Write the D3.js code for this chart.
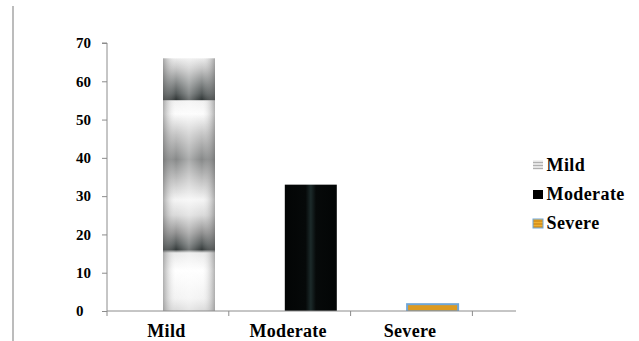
<!DOCTYPE html>
<html>
<head>
<meta charset="utf-8">
<script src="https://cdn.jsdelivr.net/npm/d3@7"></script>
<style>
  html, body { margin: 0; padding: 0; background: #fff; }
  svg { display: block; }
  text { font-family: "Liberation Serif", "Times New Roman", serif; font-weight: bold; fill: #000; }
</style>
</head>
<body>
<svg id="chart" width="639" height="341"></svg>
<script>
// ---- data ----
const categories = ["Mild", "Moderate", "Severe"];
const values = [66, 33, 1];
const yTicks = [0, 10, 20, 30, 40, 50, 60, 70];
const legendLabels = ["Mild", "Moderate", "Severe"];

// ---- layout ----
const W = 639, H = 341;
const svg = d3.select("#chart");
const x0 = 107, bandW = 121.8, axisEnd = 516;
const yTop = 43, yBottom = 311;
const barOffset = 56, barW = 52;

const x = d3.scaleBand().domain(categories).range([x0, x0 + bandW * categories.length]).padding(0);
const y = d3.scaleLinear().domain([0, 70]).range([yBottom, yTop]);

const defs = svg.append("defs");

// Mild bar vertical banding gradient
const gMild = defs.append("linearGradient").attr("id", "mildV").attr("x1", 0).attr("y1", 0).attr("x2", 0).attr("y2", 1);
[[0, "#ececec"], [0.04, "#c4c4c4"], [0.10, "#7a7e7e"], [0.14, "#4a5050"], [0.163, "#262c2c"], [0.168, "#f0f0f0"],
 [0.22, "#fcfcfc"], [0.30, "#c2c2c2"], [0.40, "#808282"], [0.48, "#bcbcbc"], [0.56, "#f4f4f4"],
 [0.62, "#d8d8d8"], [0.69, "#8a8a8a"], [0.735, "#4c5252"], [0.757, "#2a3030"], [0.77, "#e8e8e8"], [0.84, "#ffffff"],
 [0.95, "#f2f2f2"], [1, "#d8d8d8"]]
  .forEach(([o, c]) => gMild.append("stop").attr("offset", o).attr("stop-color", c));

const gMildH = defs.append("linearGradient").attr("id", "mildH").attr("x1", 0).attr("y1", 0).attr("x2", 1).attr("y2", 0);
[[0, "#707070", 0.55], [0.25, "#ffffff", 0.05], [0.5, "#ffffff", 0.35], [0.75, "#ffffff", 0.05], [1, "#707070", 0.55]]
  .forEach(([o, c, a]) => gMildH.append("stop").attr("offset", o).attr("stop-color", c).attr("stop-opacity", a));

const gMod = defs.append("linearGradient").attr("id", "modH").attr("x1", 0).attr("y1", 0).attr("x2", 1).attr("y2", 0);
[[0, "#030505"], [0.4, "#060909"], [0.5, "#1c2a2a"], [0.6, "#060909"], [1, "#030505"]]
  .forEach(([o, c]) => gMod.append("stop").attr("offset", o).attr("stop-color", c));

// stripe patterns for legend
const pMild = defs.append("pattern").attr("id", "pMild").attr("width", 4).attr("height", 3).attr("patternUnits", "userSpaceOnUse");
pMild.append("rect").attr("width", 4).attr("height", 3).attr("fill", "#e4e4e4");
pMild.append("rect").attr("width", 4).attr("height", 1).attr("fill", "#b0b0b0");
const pSev = defs.append("pattern").attr("id", "pSev").attr("width", 4).attr("height", 3).attr("patternUnits", "userSpaceOnUse");
pSev.append("rect").attr("width", 4).attr("height", 3).attr("fill", "#f0b030");
pSev.append("rect").attr("width", 4).attr("height", 1).attr("fill", "#c07a10");

// left frame line
svg.append("line").attr("x1", 13).attr("x2", 13).attr("y1", 6).attr("y2", H)
  .attr("stroke", "#a6a6a6").attr("stroke-width", 1.5);

// ---- bars ----
const barX = d => x(d) + barOffset;
categories.forEach((c, i) => {
  const v = values[i];
  if (i === 0) {
    svg.append("rect").attr("x", barX(c)).attr("y", y(v)).attr("width", barW).attr("height", y(0) - y(v)).attr("fill", "url(#mildV)");
    svg.append("rect").attr("x", barX(c)).attr("y", y(v)).attr("width", barW).attr("height", y(0) - y(v)).attr("fill", "url(#mildH)");
  } else if (i === 1) {
    svg.append("rect").attr("x", barX(c)).attr("y", y(v)).attr("width", barW).attr("height", y(0) - y(v)).attr("fill", "url(#modH)");
  } else {
    svg.append("rect").attr("x", barX(c) - 0.5).attr("y", y(v) - 4).attr("width", barW + 1).attr("height", y(0) - y(v) + 4).attr("fill", "#6fa6d8");
    svg.append("rect").attr("x", barX(c) + 1.5).attr("y", y(v) - 2).attr("width", barW - 3).attr("height", y(0) - y(v) + 1.5).attr("fill", "#dc9a22");
  }
});

// ---- axes ----
const axisColor = "#8c8c8c";
const yAxis = svg.append("g").attr("transform", `translate(${x0},0)`)
  .call(d3.axisLeft(y).tickValues(yTicks).tickSize(5).tickFormat(d3.format("d")));
yAxis.select(".domain").attr("stroke", axisColor).attr("d", `M-5,${yTop}H0V${yBottom}`);
yAxis.selectAll(".tick line").attr("stroke", axisColor);
yAxis.selectAll(".tick text").attr("text-anchor", "start").attr("x", 76 - x0)
  .style("font-size", "15px").style("font-family", "Liberation Serif").style("font-weight", "bold").attr("fill", "#000");

const xAxis = svg.append("g").attr("transform", `translate(0,${yBottom})`);
xAxis.append("line").attr("x1", x0).attr("x2", axisEnd).attr("y1", 0).attr("y2", 0).attr("stroke", axisColor);
const boundaries = categories.map(c => x(c)).concat([x(categories[categories.length - 1]) + x.bandwidth()]);
xAxis.selectAll("line.tk").data(boundaries).join("line").attr("class", "tk")
  .attr("x1", d => d).attr("x2", d => d).attr("y1", 0).attr("y2", 5).attr("stroke", axisColor);
xAxis.selectAll("text").data(categories).join("text")
  .attr("x", d => x(d) + x.bandwidth() / 2 - 1.5).attr("y", 26)
  .attr("text-anchor", "middle").style("font-size", "18px").style("letter-spacing", "0.3px").text(d => d);

// ---- legend ----
const legend = svg.append("g");
const legendY = [165, 194.5, 223.5];
const markerFill = ["url(#pMild)", "#000", "url(#pSev)"];
legendLabels.forEach((l, i) => {
  const g = legend.append("g").attr("transform", `translate(533,${legendY[i]})`);
  g.append("rect").attr("x", 0).attr("y", -4.5).attr("width", 10).attr("height", 9)
    .attr("fill", markerFill[i]).attr("stroke", i === 2 ? "#6fa6d8" : "none").attr("stroke-width", 1);
  g.append("text").attr("x", 13.5).attr("y", 5.5).style("font-size", "18px").style("letter-spacing", "0.4px").text(l);
});
</script>
</body>
</html>
